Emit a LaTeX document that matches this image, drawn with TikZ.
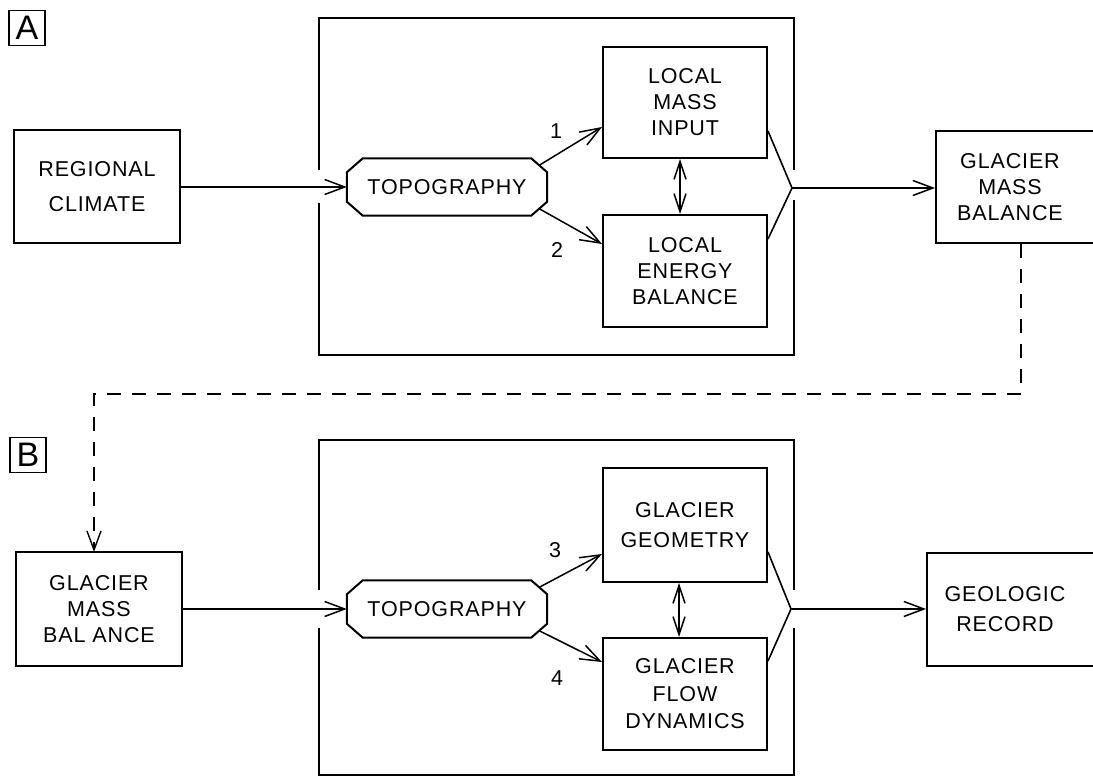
\documentclass[tikz,border=0pt]{standalone}
\usepackage{fontspec}
\setmainfont{Liberation Sans}[LetterSpace=4]
\usetikzlibrary{arrows.meta,calc}
\newcommand\drawoct[1]{%
  \draw[octline] ($(#1.north west)+(16,0)$) -- ($(#1.north east)+(-16,0)$) -- ($(#1.north east)+(0,14)$) -- ($(#1.south east)+(0,-14)$) -- ($(#1.south east)+(-16,0)$) -- ($(#1.south west)+(16,0)$) -- ($(#1.south west)+(0,-14)$) -- ($(#1.north west)+(0,14)$) -- cycle;}
\begin{document}
\begin{tikzpicture}[x=1pt,y=-1pt,
  txt/.style={align=center, inner sep=0pt, font=\fontsize{21.5}{26}\selectfont},
  box/.style={draw, line width=2pt, inner sep=0pt, align=center, font=\fontsize{21.5}{26}\selectfont},
  topo/.style={inner sep=0pt, minimum width=200, minimum height=57, font=\fontsize{21.5}{26}\selectfont},
  octline/.style={line width=2pt, line join=miter},
  frameline/.style={line width=2.4pt},
  link/.style={line width=1.6pt},
  conn/.style={line width=1.5pt, -{Straight Barb[length=20pt,width=15pt]}},
  dconn/.style={line width=1.5pt, {Straight Barb[length=18pt,width=12pt]}-{Straight Barb[length=18pt,width=12pt]}},
  dashline/.style={line width=1.4pt, dash pattern=on 14pt off 11pt, -{Straight Barb[length=19pt,width=14pt]}},
  lbl/.style={inner sep=0pt, font=\fontsize{21.5}{26}\selectfont},
  panel/.style={draw, line width=1.4pt, inner sep=0pt, minimum width=36, minimum height=35, font=\fontsize{34}{34}\selectfont}
]
\fill[white] (0,0) rectangle (1093,778);
\useasboundingbox (0,0) rectangle (1093,778);

% panel labels
\node[panel] (labA) at (27,28) {A};
\node[panel] (labB) at (28,455) {B};

% ---------- Panel A ----------
\draw[frameline] (319,170) -- (319,18) -- (794,18) -- (794,170);
\draw[frameline] (794,200) -- (794,355) -- (319,355) -- (319,203);

\node[box, minimum width=166, minimum height=113, font=\fontsize{21.5}{35}\selectfont] (reg) at (97,187) {REGIONAL\\CLIMATE};
\node[topo] (tA) at (447,187) {TOPOGRAPHY};
\drawoct{tA}
\node[box, minimum width=164, minimum height=111] (lmi) at (685,102.5) {LOCAL\\MASS\\INPUT};
\node[box, minimum width=164, minimum height=112] (leb) at (685,271) {LOCAL\\ENERGY\\BALANCE};
\node[box, minimum width=200, minimum height=112] (gmbA) at (1036,187) {};
\node[txt] (gmbAt) at (1010,187) {GLACIER\\MASS\\BALANCE};

\draw[conn] (reg.east) -- (tA.west);
\draw[conn] ($(tA.north east)+(-8,7)$) -- ($(lmi.north west)+(0,81)$);
\draw[conn] ($(tA.south east)+(-8,-7)$) -- ($(leb.north west)+(0,30)$);
\node[lbl] (n1) at (556,131) {1};
\node[lbl] (n2) at (557,250) {2};
\draw[dconn] ($(lmi.south)+(-5,0)$) -- ($(leb.north)+(-5,0)$);
\coordinate (mA) at (792,188);
\draw[link] ($(lmi.north east)+(0,85)$) -- (mA) -- ($(leb.north east)+(0,25)$);
\draw[conn] (mA) -- (mA -| gmbA.west);

% dashed connection
\coordinate (dA) at (1021,394);
\draw[dashline] (gmbA.south -| dA) -- (dA) -| (94,552);

% ---------- Panel B ----------
\draw[frameline] (319,590) -- (319,440) -- (794,440) -- (794,590);
\draw[frameline] (794,628) -- (794,775) -- (319,775) -- (319,628);

\node[box, minimum width=166, minimum height=114] (gmbB) at (99,609) {GLACIER\\MASS\\BAL ANCE};
\node[topo] (tB) at (447,609) {TOPOGRAPHY};
\drawoct{tB}
\node[box, minimum width=164, minimum height=114, font=\fontsize{21.5}{30}\selectfont] (geo) at (685,525) {GLACIER\\GEOMETRY};
\node[box, minimum width=164, minimum height=112, font=\fontsize{21.5}{27.5}\selectfont] (flow) at (685,694) {GLACIER\\FLOW\\DYNAMICS};
\node[box, minimum width=210, minimum height=113] (rec) at (1032,609.5) {};
\node[txt, font=\fontsize{21.5}{30}\selectfont] (rect) at (1005,609) {GEOLOGIC\\RECORD};

\draw[conn] (gmbB.east) -- (tB.west);
\draw[conn] ($(tB.north east)+(-8,7)$) -- ($(geo.north west)+(0,87)$);
\draw[conn] ($(tB.south east)+(-8,-7)$) -- ($(flow.north west)+(0,25)$);
\node[lbl] (n3) at (555,550) {3};
\node[lbl] (n4) at (557,678) {4};
\draw[dconn] ($(geo.south)+(-6,0)$) -- ($(flow.north)+(-6,0)$);
\coordinate (mB) at (791,609);
\draw[link] ($(geo.north east)+(0,85)$) -- (mB) -- ($(flow.north east)+(0,24)$);
\draw[conn] (mB) -- (mB -| rec.west);
\end{tikzpicture}
\end{document}
